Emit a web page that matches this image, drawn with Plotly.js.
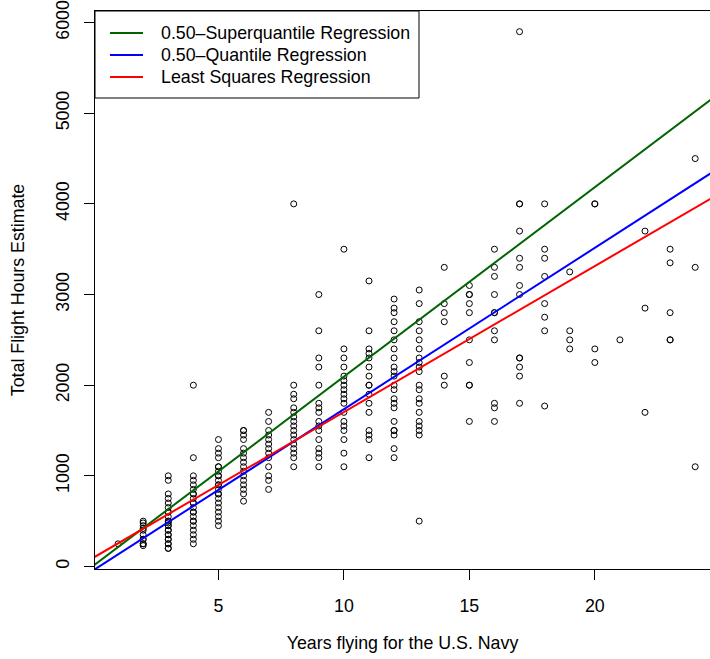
<!DOCTYPE html>
<html>
<head>
<meta charset="utf-8">
<script src="https://cdn.plot.ly/plotly-3.0.1.min.js"></script>
<style>html,body{margin:0;padding:0;background:#fff;}#chart{width:710px;height:659px;}</style>
</head>
<body>
<div id="chart"></div>
<script>
// Years flying (x) and the flight-hour estimates observed at each year
const yearValues = [1,2,3,4,5,6,7,8,9,10,11,12,13,14,15,16,17,18,19,20,21,22,23,24];
const hoursByYear = [
  [250],
  [500,480,450,420,400,350,300,300,250,250,230],
  [1000,950,800,750,700,650,600,600,550,500,500,480,450,450,400,400,350,350,300,300,250,250,200,200],
  [2000,1200,1000,950,900,850,800,800,750,700,700,650,600,600,550,500,500,450,400,350,300,250],
  [1400,1300,1250,1200,1100,1100,1050,1000,1000,950,900,900,850,800,800,750,700,650,600,550,500,450],
  [1500,1500,1450,1400,1300,1250,1200,1150,1100,1050,1000,950,900,850,800,720],
  [1700,1600,1500,1450,1400,1350,1300,1250,1200,1100,1000,950,850],
  [4000,2000,1900,1850,1750,1700,1650,1600,1550,1500,1450,1400,1350,1300,1250,1200,1100],
  [3000,2600,2300,2200,2000,1800,1750,1700,1600,1550,1500,1400,1300,1250,1200,1100],
  [3500,2400,2300,2200,2100,2050,2000,1950,1900,1850,1800,1700,1600,1550,1500,1400,1250,1100],
  [3150,2600,2400,2350,2300,2200,2100,2000,2000,1900,1800,1700,1500,1450,1400,1200],
  [2950,2850,2800,2700,2600,2500,2400,2300,2200,2150,2100,2000,1950,1850,1800,1750,1600,1500,1500,1450,1300,1200],
  [3050,2900,2700,2600,2500,2400,2300,2250,2200,2150,2000,1950,1850,1800,1700,1600,1550,1500,1450,500],
  [3300,2900,2800,2700,2100,2000],
  [3100,3000,3000,2900,2800,2500,2250,2000,2000,1600],
  [3500,3300,3200,3000,2800,2800,2600,2500,1800,1750,1600],
  [5900,4000,4000,3700,3400,3300,3100,3000,2300,2300,2200,2100,1800],
  [4000,3500,3400,3200,2900,2750,2600,1770],
  [3250,2600,2500,2400],
  [4000,4000,2400,2250],
  [2500],
  [3700,2850,1700],
  [3500,3350,2800,2500,2500],
  [4500,3300,1100]
];

// Fitted regression lines: hours = intercept + slope * years
const fitNames = ["0.50\u2013Superquantile Regression", "0.50\u2013Quantile Regression", "Least Squares Regression"];
const fitIntercepts = [5, -45, 94];
const fitSlopes = [209, 178, 161];
const fitSpan = [0, 25];

const xTicks = [5, 10, 15, 20];
const yTicks = [0, 1000, 2000, 3000, 4000, 5000, 6000];

// styles
const fitColors = ["#006400", "#0000FF", "#FF0000"];
const FONT = "Liberation Sans, Arial, Helvetica, sans-serif";
const FS = 17.8;

const px = [], py = [];
yearValues.forEach((yr, i) => hoursByYear[i].forEach(h => { px.push(yr); py.push(h); }));

const traces = [{
  type: "scatter", mode: "markers", x: px, y: py, showlegend: false, hoverinfo: "x+y",
  marker: {symbol: "circle-open", size: 6, color: "#000", line: {width: 1, color: "#000"}}
}];
fitNames.forEach((n, i) => {
  traces.push({
    type: "scatter", mode: "lines", name: n, showlegend: false,
    x: fitSpan.slice(),
    y: fitSpan.map(v => fitIntercepts[i] + fitSlopes[i] * v),
    line: {color: fitColors[i], width: 2}
  });
});

// Legend box (top-left, R style) drawn with shapes + annotations
const plotW = 615, plotH = 558;
const legBox = {x0: 0, x1: 324 / plotW, y0: 1 - 87 / plotH, y1: 1};
const shapes = [{
  type: "rect", xref: "paper", yref: "paper",
  x0: legBox.x0, x1: legBox.x1, y0: legBox.y0, y1: legBox.y1,
  fillcolor: "#fff", line: {color: "#000", width: 1}, layer: "above"
}];
const annotations = [];
fitNames.forEach((n, i) => {
  const yy = 1 - (22 + 22 * i) / plotH;
  shapes.push({
    type: "line", xref: "paper", yref: "paper",
    x0: 15 / plotW, x1: 48 / plotW, y0: yy, y1: yy,
    line: {color: fitColors[i], width: 2}, layer: "above"
  });
  annotations.push({
    xref: "paper", yref: "paper", x: 64 / plotW, y: yy,
    xanchor: "left", yanchor: "middle", showarrow: false,
    text: n, font: {family: FONT, size: FS, color: "#000"}
  });
});

const layout = {
  width: 710, height: 659,
  margin: {l: 95, r: 0, t: 11, b: 90, pad: 0},
  paper_bgcolor: "#fff", plot_bgcolor: "#fff",
  font: {family: FONT, size: FS, color: "#000"},
  showlegend: false,
  shapes: shapes,
  annotations: annotations,
  xaxis: {
    range: [0.08, 24.59], tickmode: "array", tickvals: xTicks, ticktext: xTicks.map(String),
    showgrid: false, zeroline: false, showline: true, mirror: true, linecolor: "#000", linewidth: 1,
    ticks: "outside", ticklen: 10, tickwidth: 1, tickcolor: "#000", ticklabelstandoff: 11,
    tickfont: {family: FONT, size: FS, color: "#000"},
    title: {text: "Years flying for the U.S. Navy", font: {family: FONT, size: FS, color: "#000"}, standoff: 21},
    automargin: false
  },
  yaxis: {
    range: [-28, 6128], tickmode: "array", tickvals: yTicks, ticktext: yTicks.map(String),
    showgrid: false, zeroline: false, showline: true, mirror: false, linecolor: "#000", linewidth: 1,
    ticks: "outside", ticklen: 10, tickwidth: 1, tickcolor: "#000", tickangle: -90, ticklabelstandoff: 8,
    tickfont: {family: FONT, size: FS, color: "#000"},
    title: {text: "Total Flight Hours Estimate", font: {family: FONT, size: FS, color: "#000"}, standoff: 23},
    automargin: false
  }
};

Plotly.newPlot("chart", traces, layout, {displayModeBar: false, staticPlot: true});
</script>
</body>
</html>
